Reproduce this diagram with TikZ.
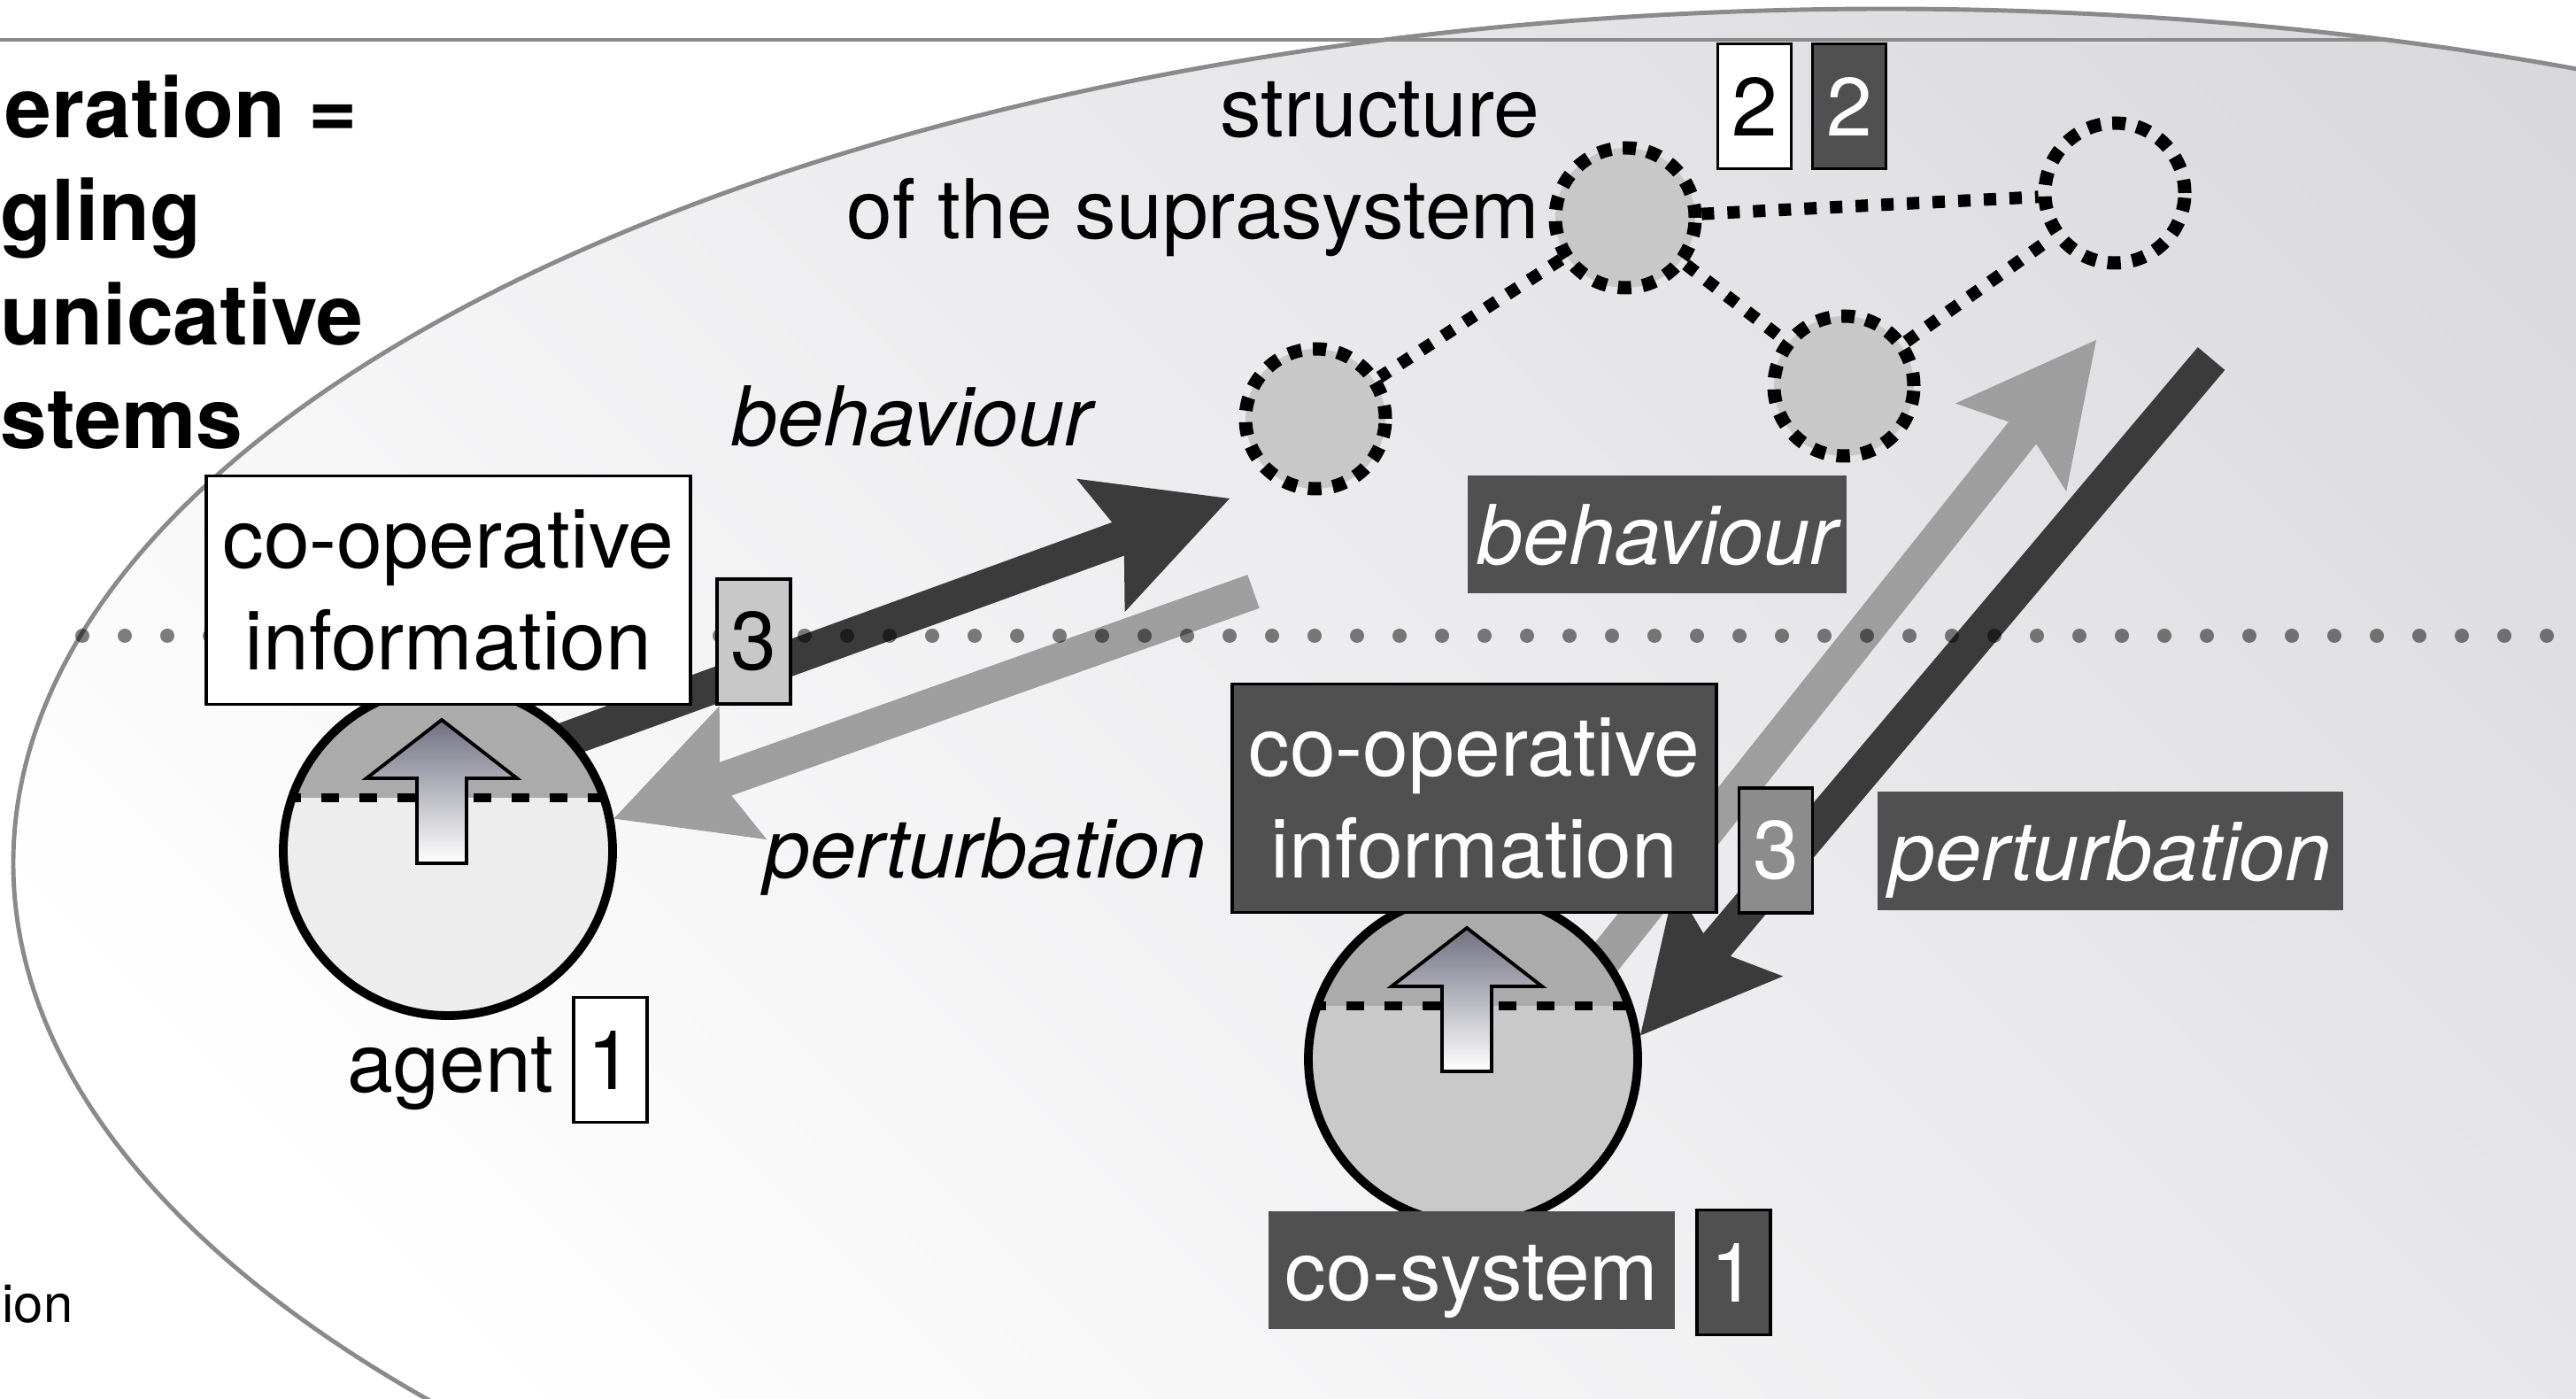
\documentclass[tikz,border=0pt]{standalone}
\usepackage{fontspec}
\setmainfont{TeX Gyre Heros}
\usetikzlibrary{arrows.meta,calc}

\pgfdeclarelayer{back}
\pgfdeclarelayer{flow}
\pgfsetlayers{back,flow,main}

\definecolor{boxdark}{HTML}{505050}
\definecolor{boxmid}{HTML}{8C8C8C}
\definecolor{boxlight}{HTML}{C8C8C8}
\definecolor{arrdark}{HTML}{3B3B3B}
\definecolor{arrlight}{HTML}{9E9E9E}
\definecolor{capgray}{HTML}{ABABAB}
\definecolor{ellgray}{HTML}{D3D3D8}
\definecolor{linegray}{HTML}{8A8A8A}
\definecolor{uptop}{HTML}{707082}

\tikzset{
  lblfont/.style={font=\fontsize{26.5}{32.6}\selectfont},
  lbl/.style={lblfont, inner sep=0pt},
  title/.style={inner sep=0pt, anchor=base west, font=\fontsize{27}{33}\selectfont\bfseries},
  numbox/.style={lblfont, draw=black, line width=0.9pt, minimum width=0.83cm,
    minimum height=1.41cm, inner sep=0pt},
  infobox/.style={lblfont, draw=black, line width=0.9pt, minimum width=5.47cm,
    minimum height=2.58cm, inner sep=0pt, align=center},
  darklabel/.style={lblfont, fill=boxdark, text=white, inner xsep=0pt, inner ysep=0pt,
    text height=1.0cm, text depth=0.33cm},
  system/.style={circle, draw=black, line width=2.8pt, minimum size=3.72cm, inner sep=0pt,
    path picture={
      \fill[capgray] (path picture bounding box.north west) rectangle ([yshift=0.6cm]path picture bounding box.east);
      \draw[capline] ([yshift=0.6cm]path picture bounding box.west) -- ([yshift=0.6cm]path picture bounding box.east);
    }},
  capline/.style={black, line width=0.1cm, dash pattern=on 0.2cm off 0.23cm},
  upblock/.style={draw=black, line width=1.1pt, top color=uptop, bottom color=white},
  supnode/.style={circle, minimum size=1.58cm, inner sep=0pt, draw=black,
    line width=0.15cm, dash pattern=on 0.15cm off 0.13cm},
  suplink/.style={draw=black, line width=0.14cm, dash pattern=on 0.14cm off 0.15cm},
  bigarrow/.style={line width=0.4cm,
    -{Stealth[length=1.55cm, width=1.6cm, inset=0.28cm, line width=0pt]}},
}

\begin{document}
\begin{tikzpicture}
\useasboundingbox (0,0) rectangle (29.1,-15.8);
\clip (0,0) rectangle (29.1,-15.8);

\begin{pgfonlayer}{back}
\fill[white] (0,0) rectangle (29.1,-15.8);
% the suprasystem
\path[draw=linegray, line width=1.4pt, bottom color=white, top color=ellgray, shading angle=-45]
  (21.30,-9.75) ellipse [x radius=21.15, y radius=9.65];
\draw[linegray, line width=0.9pt] (0,-0.45) -- (26.95,-0.45);
\end{pgfonlayer}

% heading, cut at the left edge
\node[title] (t1) at (0.05,-1.56) {eration =};
\node[title] (t2) at (0,-2.72) {gling};
\node[title] (t3) at (0,-3.90) {unicative};
\node[title] (t4) at (0,-5.07) {stems};
\node[inner sep=0pt, anchor=base west, font=\fontsize{17}{20}\selectfont] (t5) at (0.02,-14.93) {ion};

% border between the domains
\foreach \i in {0,...,58}
  \fill[black, opacity=0.5] (0.93+0.48*\i,-7.18) circle (0.08cm);

% agent and co-system
\node[system, fill=black!7] (agent) at (5.06,-9.61) {};
\node[system, fill=black!21] (cosys) at (16.64,-11.96) {};
\foreach \c in {agent,cosys}{
  \begin{scope}[shift={(\c.center)}]
    \shadedraw[upblock] (-0.07,1.48) -- (0.78,0.82) -- (0.21,0.82) -- (0.21,-0.14)
      -- (-0.35,-0.14) -- (-0.35,0.82) -- (-0.92,0.82) -- cycle;
  \end{scope}
}

% interaction
\coordinate (behA) at (6.18,-8.43);
\coordinate (behB) at (13.89,-5.63);
\coordinate (perA) at (14.16,-6.68);
\coordinate (coA) at (17.96,-11.04);
\coordinate (coB) at (23.68,-3.84);
\coordinate (coC) at (24.98,-4.05);
\begin{pgfonlayer}{flow}
\draw[bigarrow, arrdark] (behA) -- (behB);
\draw[bigarrow, arrlight] (perA) -- (agent.11);
\draw[bigarrow, arrlight] (coA) -- (coB);
\draw[bigarrow, arrdark] (coC) -- (cosys.8);
\end{pgfonlayer}

% structure of the suprasystem
\node[supnode, fill=boxlight] (supMid) at (18.36,-2.46) {};
\node[supnode] (supRight) at (23.89,-2.18) {};
\node[supnode, fill=boxlight] (supLeft) at (14.86,-4.73) {};
\node[supnode, fill=boxlight] (supLow) at (20.83,-4.36) {};
\draw[suplink] (supMid) -- (supRight);
\draw[suplink] (supMid) -- (supLeft);
\draw[suplink] (supMid) -- (supLow);
\draw[suplink] (supLow) -- (supRight);
\node[lbl, align=right, anchor=north east] (struct) at (17.40,-0.92) {structure\\of the suprasystem};
\node[numbox, fill=white] (two1) at (19.82,-1.20) {2};
\node[numbox, fill=boxdark, text=white] (two2) at (20.89,-1.20) {2};

% labels
\node[lbl, anchor=base west] (behLbl) at (8.26,-5.04) {\itshape behaviour};
\node[lbl, anchor=base west] (perLbl) at (8.63,-9.92) {\itshape perturbation};
\node[darklabel, minimum width=4.28cm] (behDark) at (18.72,-6.04) {\itshape behaviour};
\node[darklabel, minimum width=5.26cm] (perDark) at (23.84,-9.61) {\itshape perturbation};

\node[infobox, fill=white] (infoA) at (5.065,-6.665) {co-operative\\information};
\node[numbox, fill=boxlight] (threeA) at (8.515,-7.245) {3};
\node[infobox, fill=boxdark, text=white] (infoB) at (16.655,-9.015) {co-operative\\information};
\node[numbox, fill=boxmid, text=white] (threeB) at (20.06,-9.605) {3};

\node[lbl, anchor=base west] (agentLbl) at (3.92,-12.33) {agent};
\node[numbox, fill=white] (oneA) at (6.895,-11.97) {1};
\node[darklabel, minimum width=4.59cm] (cosysLbl) at (16.625,-14.345) {co-system};
\node[numbox, fill=boxdark, text=white] (oneB) at (19.585,-14.37) {1};
\end{tikzpicture}
\end{document}
